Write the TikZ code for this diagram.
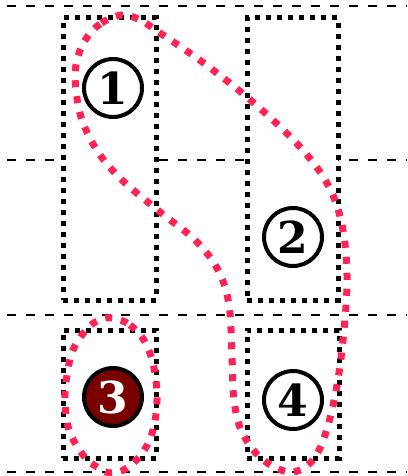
\documentclass[tikz,border=0pt]{standalone}
\usepackage{fontspec}
\newfontfamily\numfont{DejaVu Serif}
\definecolor{hl}{RGB}{255,34,82}
\definecolor{dk}{RGB}{122,0,0}
\begin{document}
\begin{tikzpicture}[x=1pt,y=-1pt,
 gridline/.style={line width=2pt, dash pattern=on 9pt off 10pt},
 box/.style={draw, fill=white, line width=5pt, dash pattern=on 5pt off 6pt, inner sep=0pt},
 num/.style={circle, draw, line width=4pt, minimum size=58pt, inner sep=0pt, fill=white, font=\numfont\bfseries\fontsize{44}{44}\selectfont},
 hloop/.style={draw=hl, line width=7pt, dash pattern=on 7pt off 9pt}]
\useasboundingbox (0,0) rectangle (407,476);
% grid lines
\foreach \yy in {6,160,315,472} \draw[gridline] (7,\yy) -- (407,\yy);
% boxes
\node[box, minimum width=93pt, minimum height=282pt] (r1) at (109.5,159) {};
\node[box, minimum width=91pt, minimum height=282pt] (r2) at (292.5,159) {};
\node[box, minimum width=93pt, minimum height=128pt] (r3) at (109.5,394) {};
\node[box, minimum width=92pt, minimum height=128pt] (r4) at (293,394) {};
% numbers
\node[num] (n1) at (113,88) {1};
\node[num] (n2) at (293,237) {2};
\node[num, fill=dk, text=white] (n3) at (113,397) {3};
\node[num] (n4) at (293,400) {4};
% highlight loops
\draw[hloop] plot[smooth cycle, tension=0.6] coordinates {
 (122,15) (100,24) (84,42) (76,65) (76,90) (82,120) (98,152) (122,180) (160,212) (195,240) (218,270) (229,305) (232,357) (234,400) (242,432) (262,459) (290,472) (312,461) (326,432) (337,385) (344,330) (347,275) (342,225) (328,185) (300,147) (255,104) (205,64) (160,33) (140,20)};
\draw[hloop] plot[smooth cycle, tension=0.6] coordinates {
 (113,318) (130,325) (145,342) (154,368) (157,400) (153,430) (143,452) (127,468) (111,473) (97,467) (83,455) (69,430) (65,400) (67,375) (73,350) (86,330) (99,320)};
\end{tikzpicture}
\end{document}
